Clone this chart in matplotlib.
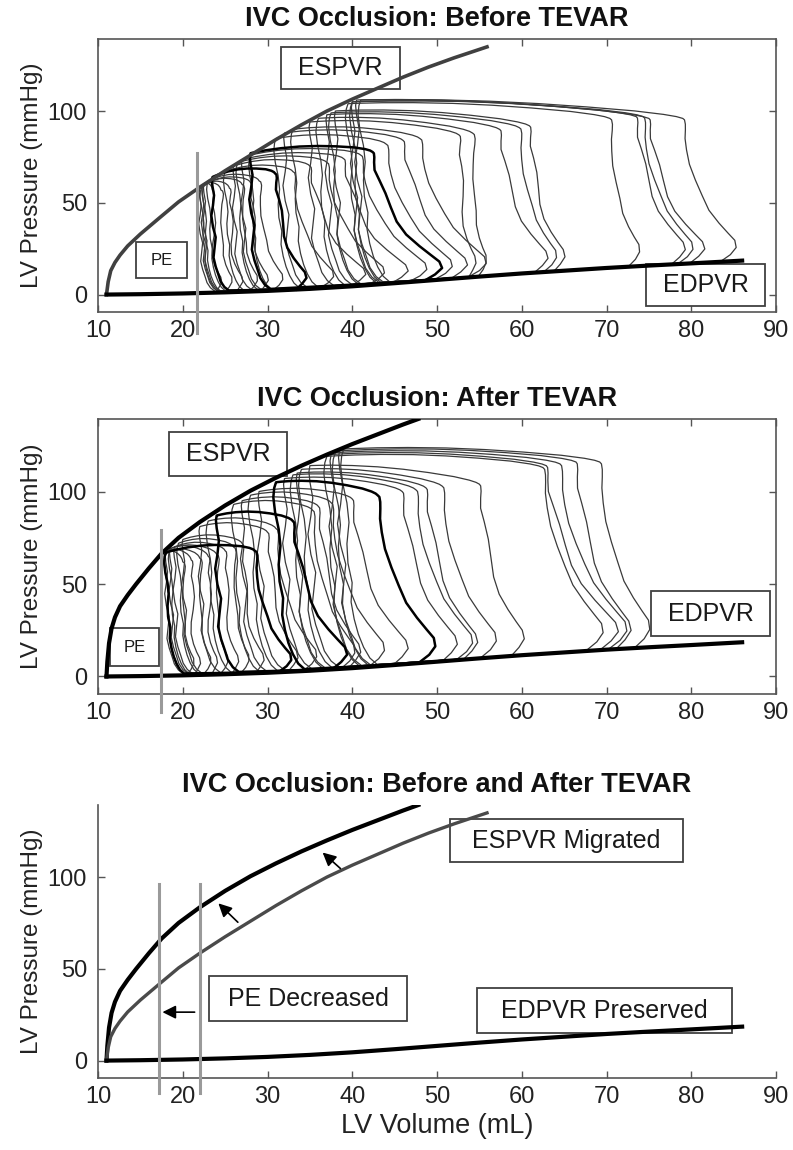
import numpy as np
import matplotlib
matplotlib.use('Agg')
import matplotlib.pyplot as plt
from matplotlib.patches import Rectangle

plt.rcParams['font.family'] = ['Liberation Sans', 'DejaVu Sans']

# ESPVR / EDPVR curves (volume mL, pressure mmHg)
espvr_pre_v = [11.0, 11.2, 11.5, 12.0, 12.6, 13.5, 15.0, 17.3, 19.5, 22.0, 25.0, 28.0, 31.0,
               34.0, 37.0, 40.0, 43.0, 46.0, 49.0, 52.0, 55.9]
espvr_pre_p = [0, 7, 13, 17.5, 21.5, 26.5, 33, 42, 50.5, 58.5, 67.5, 76, 84.5,
               92.5, 100, 106.5, 112.5, 118.5, 124, 129, 135]
espvr_post_v = [11.0, 11.1, 11.3, 11.6, 12.0, 12.6, 13.5, 14.5, 16.0, 17.5, 19.5, 22.0, 25.0,
                28.0, 31.0, 34.0, 37.0, 40.0, 43.0, 46.0, 47.8]
espvr_post_p = [0, 8, 18, 26, 32, 38, 44, 50, 58.5, 66.5, 75, 83.5, 92.5,
                100.5, 107.5, 114, 120, 125.7, 131, 136.3, 139.3]
edpvr_v = [11, 15, 20, 25, 30, 35, 40, 45, 50, 55, 60, 65, 70, 75, 80, 86]
edpvr_p = [0, 0.2, 0.6, 1.2, 2.0, 3.1, 4.5, 6.2, 8.0, 9.8, 11.5, 13.0, 14.5, 15.8, 17.0, 18.5]

# loops during IVC occlusion, before TEVAR
# ves: end-systolic volume, vtr: top-right corner volume, ved: foot of loop
# ptl / ptr: pressure at top-left / top-right corner
pre_ves = [41, 40.5, 40, 40, 39.5, 38, 37.5, 37, 36, 35, 33, 32, 31, 28, 28, 27, 26.5, 26, 25, 23.5, 23, 22.5, 22.5, 22.3, 22.2, 22]
pre_vtr = [79, 75, 74.3, 73.5, 70.4, 60.9, 59.7, 57.4, 54.2, 52.6, 48, 46, 44, 42.4, 41, 39, 37, 35, 33, 30.9, 29, 28, 27, 25.5, 24.5, 23.5]
pre_ved = [84.5, 81, 79.4, 78.7, 73.1, 64.5, 63.3, 62.5, 55, 54, 55, 53, 51, 50, 48, 46, 43, 41, 37, 34, 31, 29.5, 28, 26.5, 25, 24]
pre_ptl = [106, 106, 105, 105, 104, 100, 99, 98, 96, 94, 90, 88, 85, 77, 76, 73.5, 72, 70, 67, 64, 62, 60, 59.5, 58.5, 58, 57.5]
pre_ptr = [96, 96, 97, 97, 96, 92, 91, 90, 88, 87, 85, 84, 82, 77.7, 76, 74, 72, 70, 67, 66, 62, 61, 60, 58, 57, 57]
pre_bold = [13, 19]

# loops during IVC occlusion, after TEVAR
post_ves = [39, 38.5, 38, 37.5, 37, 35, 34, 33.5, 33, 32, 31, 29, 28, 27, 26, 24, 23, 22, 18, 20, 19.5, 19, 18.5, 18.5, 18, 18, 18]
post_vtr = [69.2, 66.4, 64.5, 62.9, 62.5, 55, 50.6, 48.7, 47.5, 45.9, 43, 40, 37.5, 36, 35.3, 33, 31, 30, 28.5, 27, 26, 25, 24, 23, 22, 21, 20]
post_ved = [74.3, 72.3, 71.6, 70.8, 68.8, 59.7, 56.2, 54.2, 53.4, 51.8, 49, 46, 43, 40.4, 39.5, 38.8, 35, 33, 32, 29, 27, 26, 24.5, 23.5, 22.5, 21.5, 20.5]
post_ptl = [123, 122, 121, 120, 119, 114, 112, 110, 109, 107, 105, 100, 98, 95, 93, 87, 84, 81, 67, 74, 72, 70, 69, 69, 67, 67, 66]
post_ptr = [116, 116, 115, 114, 113, 104, 103, 102, 101, 100, 98, 96, 94, 92, 90, 84, 80, 78, 68, 72, 70, 68, 66, 65, 64, 63, 62]
post_bold = [10, 15, 18]

# shape of one beat (two traced beats, used in turn)
right_f = [0.00, 0.05, 0.10, 0.15, 0.20, 0.27, 0.36, 0.46, 0.57, 0.68, 0.78, 0.86, 0.92, 0.96, 0.99, 1.00]
right_s = [0.80, 0.93, 1.00, 0.97, 0.88, 0.74, 0.56, 0.40, 0.27, 0.16, 0.08, 0.03, 0.01, 0.00, 0.00, 0.00]
right_bump_a = [0.0, 0.5, 0.8, 0.8, 0.5, 0.2, 0.0, 0.1, 0.0, -0.1, 0.0, 0.1, 0.25, 0.3, 0.2, 0.0]
right_bump_b = [0.0, 0.3, 0.6, 0.5, 0.2, -0.1, -0.3, -0.2, 0.1, 0.3, 0.2, 0.0, 0.1, 0.2, 0.15, 0.0]
top_u = [0.0, 0.02, 0.06, 0.15, 0.3, 0.45, 0.6, 0.75, 0.87, 0.95, 0.99, 1.0]
top_bump = [0.0, 0.8, 1.6, 2.6, 3.3, 3.6, 3.4, 2.6, 1.6, 0.7, 0.2, 0.0]
left_f = [1.00, 0.97, 0.92, 0.84, 0.75, 0.66, 0.56, 0.47, 0.38, 0.29, 0.21, 0.14, 0.08, 0.03, 0.0]
left_dv_a = [0.0, -0.2, -0.3, -0.1, 0.3, 0.5, 0.3, 0.4, 0.8, 0.7, 1.0, 1.4, 1.9, 2.5, 3.2]
left_dv_b = [0.0, -0.1, 0.0, 0.3, 0.1, -0.2, 0.1, 0.6, 0.4, 0.2, 0.6, 1.1, 1.5, 2.2, 3.0]


def draw_loop(ax, i, ves, vtr, ved, ptl, ptr, bold):
    bump = right_bump_a if i % 2 == 0 else right_bump_b
    ldv = left_dv_a if i % 2 == 0 else left_dv_b
    rv = vtr + np.array(right_s) * (ved - vtr) + np.array(bump)
    p0 = np.interp(rv[0], edpvr_v, edpvr_p)
    rp = p0 + np.array(right_f) * (ptr - p0)
    tv = vtr + np.array(top_u) * (ves - vtr)
    tp = ptr + np.array(top_u) * (ptl - ptr) + np.array(top_bump)
    lv = ves + np.array(ldv) * ptl / 100
    p1 = np.interp(lv[-1], edpvr_v, edpvr_p) + 1.0
    lp = p1 + np.array(left_f) * (ptl - p1)
    v = np.concatenate([rv, tv[1:], lv[1:], rv[:1]])
    p = np.concatenate([rp, tp[1:], lp[1:], rp[:1]])
    if bold:
        ax.plot(v, p, color='black', lw=1.8, zorder=2.2, solid_joinstyle='round')
    else:
        ax.plot(v, p, color='#3a3a3a', lw=0.9, zorder=2, solid_joinstyle='round')


def box(ax, x0, x1, y0, y1, text, size):
    ax.add_patch(Rectangle((x0, y0), x1 - x0, y1 - y0, fc='white', ec='#404040', lw=1.3, zorder=2.5))
    ax.text((x0 + x1) / 2, (y0 + y1) / 2, text, ha='center', va='center', fontsize=size,
            color='#1a1a1a', zorder=2.6)


def style(ax, title, boxed=True):
    ax.set_xlim(10, 90)
    ax.set_ylim(-9.5, 139.3)
    ax.set_xticks(range(10, 91, 10))
    ax.set_yticks([0, 50, 100])
    ax.tick_params(direction='in', length=5, width=1, colors='#555555', labelcolor='#222222',
                   labelsize=17, top=boxed, right=boxed, pad=6)
    ax.tick_params(axis='y', pad=8)
    for s in ax.spines.values():
        s.set_color('#555555')
        s.set_linewidth(1.2)
    if not boxed:
        ax.spines['top'].set_visible(False)
        ax.spines['right'].set_visible(False)
    ax.set_ylabel('LV Pressure (mmHg)', fontsize=17.5, color='#222222', labelpad=3)
    ax.set_title(title, fontsize=19.5, fontweight='bold', color='#111111', pad=9)


fig = plt.figure(figsize=(7.93, 11.5), dpi=100)
ax1 = fig.add_axes([0.1236, 0.7287, 0.855, 0.2374])
ax2 = fig.add_axes([0.1236, 0.3965, 0.855, 0.2392])
ax3 = fig.add_axes([0.1236, 0.0626, 0.855, 0.2374])

# panel 1: before TEVAR
for i in range(len(pre_ves)):
    draw_loop(ax1, i, pre_ves[i], pre_vtr[i], pre_ved[i], pre_ptl[i], pre_ptr[i], i in pre_bold)
ax1.plot(espvr_pre_v, espvr_pre_p, color='#404040', lw=2.6, zorder=3, solid_joinstyle='round')
ax1.plot(edpvr_v, edpvr_p, color='black', lw=3, zorder=3)
ax1.plot([21.7, 21.7], [77, -21], color='#9a9a9a', lw=2.2, zorder=4, clip_on=False)
box(ax1, 31.6, 45.6, 111.8, 135.2, 'ESPVR', 18)
box(ax1, 14.5, 20.5, 9.0, 28.6, 'PE', 12)
box(ax1, 74.7, 88.7, -6.2, 16.6, 'EDPVR', 18)
style(ax1, 'IVC Occlusion: Before TEVAR')

# panel 2: after TEVAR
for i in range(len(post_ves)):
    draw_loop(ax2, i, post_ves[i], post_vtr[i], post_ved[i], post_ptl[i], post_ptr[i], i in post_bold)
ax2.plot(espvr_post_v, espvr_post_p, color='black', lw=3, zorder=3, solid_joinstyle='round')
ax2.plot(edpvr_v, edpvr_p, color='black', lw=3, zorder=3)
ax2.plot([17.4, 17.4], [79, -19], color='#9a9a9a', lw=2.2, zorder=4, clip_on=False)
box(ax2, 18.4, 32.3, 108.2, 132, 'ESPVR', 18)
box(ax2, 11.4, 17.2, 5.6, 26.1, 'PE', 12)
box(ax2, 75.3, 89.3, 21.8, 46.1, 'EDPVR', 18)
style(ax2, 'IVC Occlusion: After TEVAR')

# panel 3: both relations
ax3.plot(espvr_post_v, espvr_post_p, color='black', lw=3, zorder=3, solid_joinstyle='round')
ax3.plot(espvr_pre_v, espvr_pre_p, color='#4a4a4a', lw=2.4, zorder=3, solid_joinstyle='round')
ax3.plot(edpvr_v, edpvr_p, color='black', lw=3, zorder=3)
for v in [17.2, 22.0]:
    ax3.plot([v, v], [96, -17.7], color='#9a9a9a', lw=2.2, zorder=4, clip_on=False)
arrow = dict(arrowstyle='-|>', color='black', lw=1.2, mutation_scale=20, shrinkA=0, shrinkB=0)
ax3.annotate('', xy=(17.6, 26.4), xytext=(21.4, 26.4), arrowprops=arrow, zorder=5)
ax3.annotate('', xy=(24.2, 85.7), xytext=(26.5, 75.4), arrowprops=arrow, zorder=5)
ax3.annotate('', xy=(36.5, 113.4), xytext=(38.6, 104.7), arrowprops=arrow, zorder=5)
box(ax3, 51.5, 79.0, 108.0, 131.9, 'ESPVR Migrated', 18)
box(ax3, 23.1, 46.5, 21.5, 46.0, 'PE Decreased', 18)
box(ax3, 54.7, 84.8, 15.0, 39.5, 'EDPVR Preserved', 18)
style(ax3, 'IVC Occlusion: Before and After TEVAR', boxed=False)
ax3.set_xlabel('LV Volume (mL)', fontsize=19.5, color='#222222', labelpad=3)

fig.savefig('out.png', dpi=100)
